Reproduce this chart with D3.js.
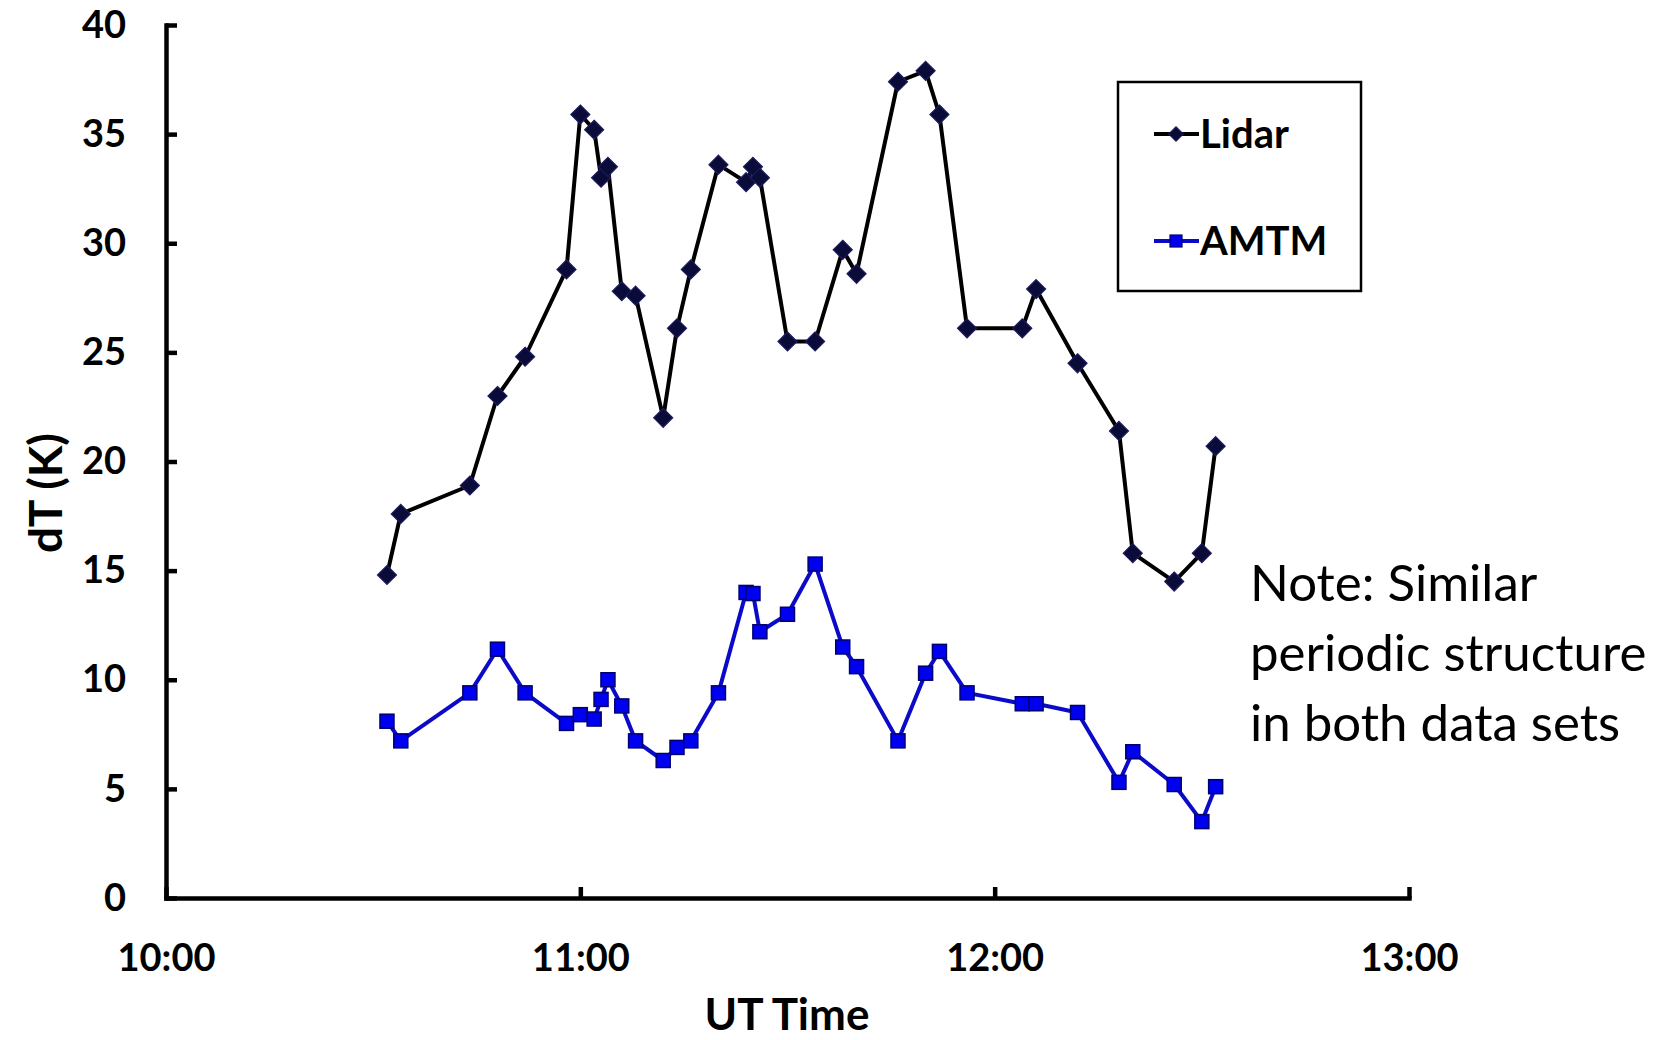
<!DOCTYPE html>
<html>
<head>
<meta charset="utf-8">
<script src="https://cdn.jsdelivr.net/npm/d3@7"></script>
<style>
  html, body { margin: 0; padding: 0; background: #ffffff; }
  svg { display: block; }
</style>
</head>
<body>
<svg id="chart" width="1680" height="1040"></svg>
<script>
// Observation times, in minutes after 10:00 UT
const minutesUT = [32, 34, 44, 48, 52, 58, 60, 62, 63, 64, 66, 68, 72, 74, 76, 80, 84, 85, 86,
                   90, 94, 98, 100, 106, 110, 112, 116, 124, 126, 132, 138, 140, 146, 150, 152];

// Temperature perturbation dT (K) from the lidar
const lidarDT = [14.8, 17.6, 18.9, 23.0, 24.8, 28.8, 35.9, 35.2, 33.0, 33.5, 27.8, 27.6, 22.0, 26.1,
                 28.8, 33.6, 32.8, 33.5, 33.0, 25.5, 25.5, 29.7, 28.6, 37.4, 37.9, 35.9, 26.1, 26.1,
                 27.9, 24.5, 21.4, 15.8, 14.5, 15.8, 20.7];

// Temperature perturbation dT (K) from the AMTM imager
const amtmDT = [8.1, 7.2, 9.4, 11.4, 9.4, 8.0, 8.4, 8.2, 9.1, 10.0, 8.8, 7.2, 6.3, 6.9, 7.2, 9.4,
                14.0, 13.95, 12.2, 13.0, 15.3, 11.5, 10.6, 7.2, 10.3, 11.3, 9.4, 8.9, 8.9, 8.5,
                5.3, 6.7, 5.2, 3.5, 5.1];

// Axis ticks and labels
const timeTicks = [0, 60, 120, 180];
const timeLabels = ["10:00", "11:00", "12:00", "13:00"];
const dtTicks = [0, 5, 10, 15, 20, 25, 30, 35, 40];

const seriesNames = ["Lidar", "AMTM"];
const noteLines = ["Note: Similar", "periodic structure", "in both data sets"];

const svg = d3.select("#chart");

const x = d3.scaleLinear().domain([0, 180]).range([166, 1409]);
const y = d3.scaleLinear().domain([0, 40]).range([898, 25]);

const boldFont = "Lato, 'Open Sans', sans-serif";

// ---- axes ----
const xAxis = d3.axisBottom(x)
  .tickValues(timeTicks)
  .tickFormat((d, i) => timeLabels[i])
  .tickSizeInner(-11)
  .tickSizeOuter(0)
  .tickPadding(60);

const yAxis = d3.axisLeft(y)
  .tickValues(dtTicks)
  .tickFormat(d3.format("d"))
  .tickSizeInner(-11)
  .tickSizeOuter(0)
  .tickPadding(40);

function styleAxis(g) {
  g.select(".domain").attr("stroke", "#000").attr("stroke-width", 4.5).attr("stroke-linecap", "square");
  g.selectAll(".tick line").attr("stroke", "#000").attr("stroke-width", 4.5);
  g.selectAll(".tick text")
    .attr("fill", "#000")
    .style("font-family", boldFont)
    .style("font-weight", "bold")
    .style("font-size", "38px");
}

svg.append("g")
  .attr("transform", `translate(0,${y(0)})`)
  .call(xAxis)
  .call(styleAxis)
  .call(g => g.selectAll(".tick text").attr("dy", "0.35em"));

svg.append("g")
  .attr("transform", `translate(${x(0)},0)`)
  .call(yAxis)
  .call(styleAxis);

// axis titles
svg.append("text")
  .attr("x", 787).attr("y", 1030)
  .attr("text-anchor", "middle")
  .style("font-family", boldFont).style("font-weight", "bold").style("font-size", "44px")
  .text("UT Time");

svg.append("text")
  .attr("transform", "translate(62,493) rotate(-90)")
  .attr("text-anchor", "middle")
  .style("font-family", boldFont).style("font-weight", "bold").style("font-size", "46px")
  .text("dT (K)");

// ---- series ----
const lidarPts = minutesUT.map((t, i) => [t, lidarDT[i]]);
const amtmPts = minutesUT.map((t, i) => [t, amtmDT[i]]);

const line = d3.line().x(d => x(d[0])).y(d => y(d[1]));

const lidarColor = "#000000";
const lidarMarkFill = "#0b0b3a";
const lidarMarkStroke = "#1c1c5c";
const amtmColor = "#0a0ac8";
const amtmMarkFill = "#0000f0";
const amtmMarkStroke = "#000070";

function diamond(hw, hh) {
  return `M0,${-hh}L${hw},0L0,${hh}L${-hw},0Z`;
}

svg.append("path")
  .datum(amtmPts)
  .attr("fill", "none")
  .attr("stroke", amtmColor)
  .attr("stroke-width", 4)
  .attr("stroke-linejoin", "round")
  .attr("d", line);

svg.append("g").selectAll("rect")
  .data(amtmPts)
  .join("rect")
  .attr("x", d => x(d[0]) - 7)
  .attr("y", d => y(d[1]) - 7)
  .attr("width", 14).attr("height", 14)
  .attr("fill", amtmMarkFill)
  .attr("stroke", amtmMarkStroke)
  .attr("stroke-width", 1.5);

svg.append("path")
  .datum(lidarPts)
  .attr("fill", "none")
  .attr("stroke", lidarColor)
  .attr("stroke-width", 4)
  .attr("stroke-linejoin", "round")
  .attr("d", line);

svg.append("g").selectAll("path")
  .data(lidarPts)
  .join("path")
  .attr("transform", d => `translate(${x(d[0])},${y(d[1])})`)
  .attr("d", diamond(9.5, 9.5))
  .attr("fill", lidarMarkFill)
  .attr("stroke", lidarMarkStroke)
  .attr("stroke-width", 1.2);

// ---- legend ----
const legend = svg.append("g");
legend.append("rect")
  .attr("x", 1118).attr("y", 82)
  .attr("width", 243).attr("height", 209)
  .attr("fill", "#fff")
  .attr("stroke", "#000")
  .attr("stroke-width", 2.5);

const legendRows = [
  { name: seriesNames[0], y: 134, color: lidarColor, kind: "diamond" },
  { name: seriesNames[1], y: 241, color: amtmColor, kind: "square" }
];

legendRows.forEach(r => {
  legend.append("line")
    .attr("x1", 1154).attr("x2", 1199)
    .attr("y1", r.y).attr("y2", r.y)
    .attr("stroke", r.color).attr("stroke-width", 4);
  if (r.kind === "diamond") {
    legend.append("path")
      .attr("transform", `translate(1176,${r.y})`)
      .attr("d", diamond(7.5, 7.5))
      .attr("fill", lidarMarkFill).attr("stroke", lidarMarkStroke).attr("stroke-width", 1);
  } else {
    legend.append("rect")
      .attr("x", 1176 - 6).attr("y", r.y - 6)
      .attr("width", 12).attr("height", 12)
      .attr("fill", amtmMarkFill).attr("stroke", amtmMarkStroke).attr("stroke-width", 1.2);
  }
  legend.append("text")
    .attr("x", 1200).attr("y", r.y + 14)
    .style("font-family", boldFont).style("font-weight", "bold").style("font-size", "40px")
    .text(r.name);
});

// ---- annotation ----
const note = svg.append("text")
  .attr("x", 1250).attr("y", 601)
  .style("font-family", "Lato, 'Open Sans', sans-serif")
  .style("font-size", "51px")
  .attr("fill", "#000");
noteLines.forEach((t, i) => {
  note.append("tspan").attr("x", 1250).attr("y", 601 + i * 70).text(t);
});
</script>
</body>
</html>
